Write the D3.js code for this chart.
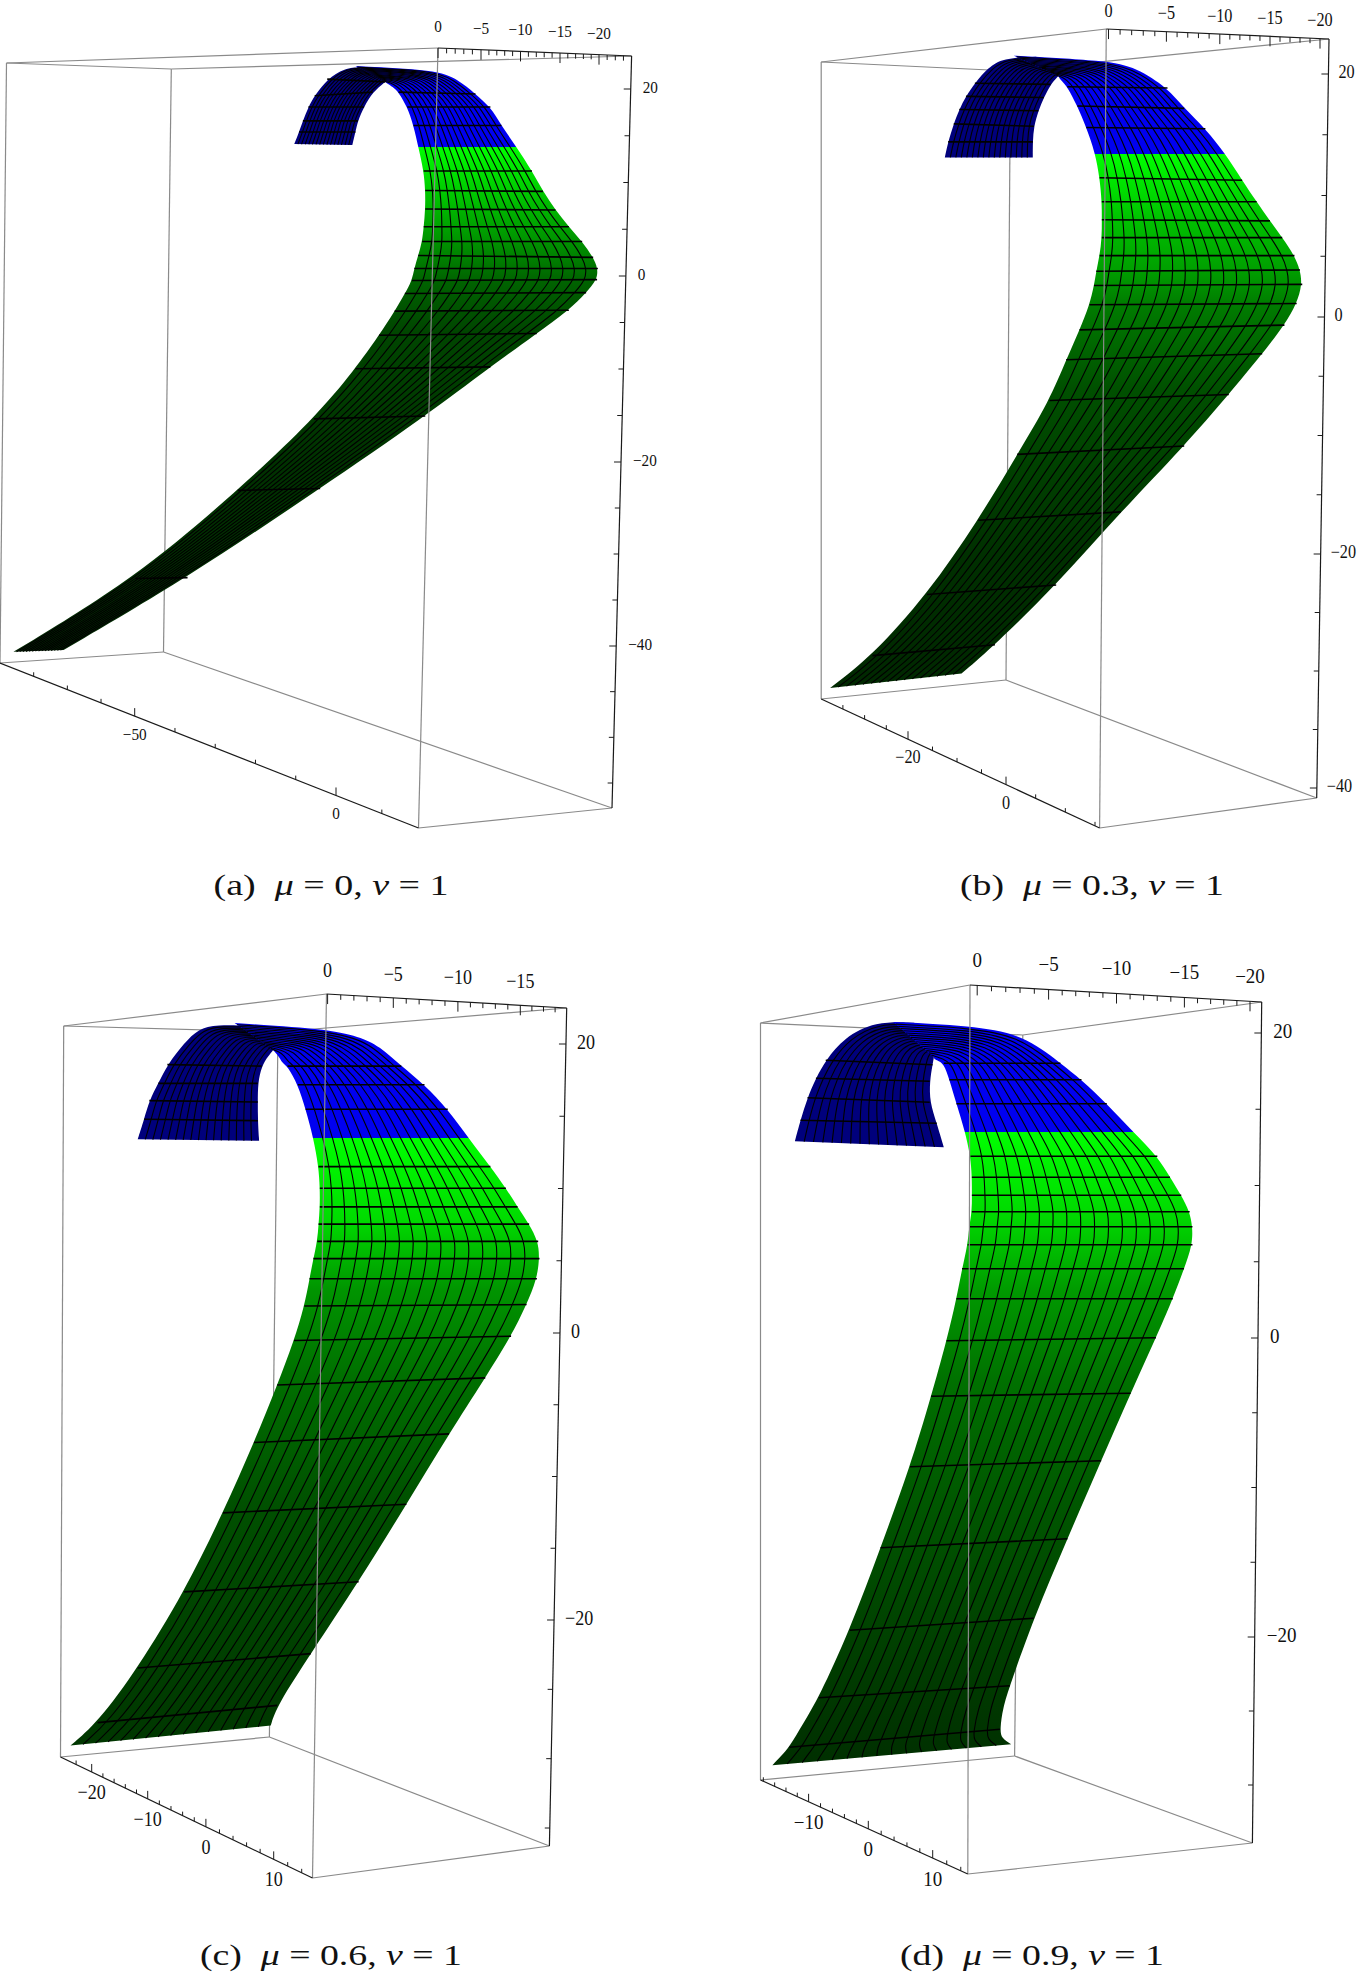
<!DOCTYPE html>
<html>
<head>
<meta charset="utf-8">
<title>Surfaces</title>
<script src="https://cdn.jsdelivr.net/npm/d3@7"></script>
<style>
html, body { margin: 0; padding: 0; background: #fff; }
svg { display: block; }
text { font-family: "Liberation Serif", serif; fill: #111; }
</style>
</head>
<body>
<div id="chart"></div>
<script>
// surface rows: [left u, left z, right u, right z]
// u is along the top axis, z along the vertical axis
const aBack = [[11.1,14.0,18.5,14.1],[10.7,15.4,17.9,15.4],[10.4,16.6,17.4,16.6],[9.6,18.1,16.7,18.1],[8.5,19.7,15.9,19.3],[6.9,20.8,14.3,21.1],[6.8,20.9,12.1,22.3],[6.7,21.0,9.9,22.4]];
const aFront = [[6.9,20.8,10.7,22.5],[6.6,20.6,0.4,22.1],[6,20.3,-2.3,21.1],[5.2,19.7,-4.6,19.5],[4.1,18.1,-6.5,18.1],[3.3,16.1,-7.9,16.1],[2.7,13.8,-9.8,13.8],[2.0,11.2,-11.8,11.2],[1.8,9.1,-13.2,9.0],[1.8,7.1,-14.8,7.0],[2.0,5.2,-16.5,5.2],[2.2,3.6,-18.2,3.6],[2.7,2.1,-19.6,1.9],[3.2,0.7,-20.2,0.7],[3.5,-0.6,-20.1,-0.5],[4.4,-2.0,-18.7,-1.9],[5.7,-3.9,-16.5,-3.8],[7.7,-6.5,-12.4,-6.3],[10.7,-10.1,-6.5,-9.9],[16,-15.5,1.8,-15.2],[25.7,-23.2,15.2,-23],[38.8,-32.7,32.1,-32.6],[54.3,-40.6,47.9,-40.4]];
const bBack = [[6.8,13.3,14.7,13.3],[6.8,14.6,14.4,14.6],[6.7,15.9,13.9,16.1],[6.3,17.2,13.4,17.3],[5.8,18.3,12.8,18.4],[5.2,19.4,12,19.5],[4.6,20.0,10.8,20.8],[4.5,20.1,9.5,21.6],[4.4,20.2,6.5,21.7]];
const bFront = [[4.5,20.1,8.5,21.8],[4.4,19.9,0.2,21.4],[4.2,19.7,-2.5,20.8],[3.7,19.2,-5.3,19.1],[2.8,17.6,-6.8,17.4],[2.0,15.8,-8.7,15.7],[1.2,13.7,-10.5,13.6],[0.8,11.6,-12,11.4],[0.6,9.6,-13.3,9.6],[0.6,8.1,-14.5,8.0],[0.6,6.6,-15.6,6.6],[0.8,5.1,-16.7,5.1],[1.1,3.8,-17.2,3.9],[1.3,2.6,-17.4,2.7],[1.7,1.0,-16.9,1.1],[2.6,-1.1,-15.8,-0.7],[3.8,-3.6,-13.8,-3.1],[5.3,-7.0,-10.8,-6.5],[8.2,-11.5,-6.8,-10.8],[11.7,-17.0,-1.1,-16.3],[16.3,-23.2,4.7,-22.4],[21.2,-28.3,10.2,-27.4],[25,-31,13.2,-29.8]];
const cBack = [[5.3,13.4,14.7,13.5],[5.4,14.8,14.2,14.9],[5.4,16.1,13.8,16.2],[5.4,17.4,13.1,17.4],[5.1,18.6,12.4,18.7],[4.6,19.3,11.1,20.2],[4.2,19.7,10,21.2],[4.2,19.8,8.6,21.5],[4.1,19.8,5.8,21.4]];
const cFront = [[4.2,19.7,7.2,21.6],[4.0,19.5,0.3,21.2],[3.8,19.3,-2.5,20.65],[3.5,18.8,-4,20],[3.1,18.6,-5.7,18.6],[2.3,17.3,-7.5,17.3],[1.7,15.6,-9.3,15.6],[1.1,13.6,-10.9,13.6],[0.7,11.6,-12.6,11.6],[0.6,10.1,-13.8,10.1],[0.6,8.8,-14.7,8.8],[0.7,7.6,-15.6,7.6],[0.8,6.4,-16.3,6.4],[1.1,5.2,-16.4,5.2],[1.4,3.8,-16.2,3.8],[1.8,1.9,-15.4,2.0],[2.6,-0.5,-14.2,-0.2],[3.9,-3.6,-12.2,-3.1],[5.7,-7.6,-9.4,-7.0],[8.1,-12.5,-6.1,-11.9],[11.1,-18.0,-2.4,-17.3],[14.7,-23.3,1.3,-22.3],[17.8,-27.1,3.9,-25.9],[19.9,-28.7,4.4,-27.3]];
const dBack = [[2.4,12.7,13,13.1],[2.9,14.3,12.6,14.5],[3.4,15.7,12.1,16],[3.4,17.1,11.5,17.3],[3.2,18.2,10.8,18.5],[3.1,18.7,9.5,20],[3.1,18.8,7.3,21.1],[3.1,18.9,4.5,21]];
const dFront = [[3.1,18.7,6,21.05],[3.1,18.6,0.5,20.8],[2.9,18.5,-3.3,20.2],[2.4,18.3,-5.9,18.3],[2.0,17.2,-7.4,17.2],[1.5,15.6,-9.2,15.6],[0.9,13.8,-11.2,13.6],[0.5,12.1,-12.8,12.1],[0.4,10.7,-13.7,10.7],[0.4,9.5,-14.5,9.5],[0.4,8.4,-15.1,8.4],[0.6,7.4,-15.3,7.4],[0.7,6.2,-15.3,6.2],[1.1,4.6,-14.7,4.6],[1.5,2.6,-13.9,2.6],[2.2,-0.2,-12.7,0],[3.3,-3.9,-10.9,-3.7],[4.8,-8.6,-8.8,-8.2],[6.9,-14,-6.4,-13.4],[9.1,-19.5,-4,-18.7],[11.3,-24,-2.3,-23.2],[12.4,-25.7,-1.8,-24.7],[13.4,-27.3,-1.6,-26.1],[14,-27.9,-1.7,-26.7],[14.6,-28.5,-2.4,-27.1]];

// rows that carry no black mesh line (fold, blue/green seam, cut ends)
const aHidden = { back: [0,6,7], front: [0,1,2,6,22] };
const bHidden = { back: [0,6,7,8], front: [0,1,2,6,22] };
const cHidden = { back: [0,5,6,7,8], front: [0,1,2,3,7,23] };
const dHidden = { back: [0,5,6,7], front: [0,1,2,6,21,23,24] };

// green shading by height, the first value is the blue/green seam
const aGreenZ = [13.8, 7, 2, -0.5, -6, -20, -41];
const aGreen = ["#00ff00", "#00b400", "#008200", "#006400", "#004600", "#003200", "#052a05"];
const bGreenZ = [13.6, 8, 4, 1, -6, -20, -31];
const bGreen = ["#00ff00", "#00c000", "#00a000", "#007c00", "#005000", "#003000", "#002800"];
const cGreenZ = [13.6, 8, 3, -3, -12, -22, -29];
const cGreen = ["#00ff00", "#00dc00", "#009400", "#007000", "#005000", "#004000", "#003600"];
const dGreenZ = [13.7, 8, 3, -3, -12, -22, -29];
const dGreen = ["#00ff00", "#00d800", "#009800", "#007000", "#005400", "#003c00", "#002e00"];

// tick values
const rightTicks = [d3.range(20, -56, -5), d3.range(20, -41, -5), d3.range(20, -36, -5), d3.range(20, -31, -5)];
const rightLabels = [[20, 0, -20, -40], [20, 0, -20, -40], [20, 0, -20], [20, 0, -20]];
const topTicks = [d3.range(0, -24, -1), d3.range(0, -21, -1), d3.range(0, -19, -1), d3.range(0, -21, -1)];
const topLabels = [[0, -5, -10, -15, -20], [0, -5, -10, -15, -20], [0, -5, -10, -15], [0, -5, -10, -15, -20]];
const bottomTicks = [d3.range(-80, 11, 10), d3.range(-35, 16, 5), d3.range(-22, 15, 2), d3.range(-18, 15, 2)];
const bottomMajor = [50, 20, 10, 10];
const bottomLabels = [[-50, 0], [-20, 0], [-20, -10, 0, 10], [-10, 0, 10]];

const captionLetter = ["(a)", "(b)", "(c)", "(d)"];
const captionMu = ["0", "0.3", "0.6", "0.9"];

// page layout of the four panels, pixels
const panels = [
    {
        back: aBack, front: aFront, hidden: aHidden, greenZ: aGreenZ, green: aGreen,
        x: [[0, -20], [439.4, 596.3]], z: [[20, -40], [89.3, 646.3]],
        tl: [6.5, 63], tb: [438, 48], tr: [631.6, 56], tf: [171.3, 69],
        bl: [0, 663], bf: [163.5, 652], bb: [418.5, 828], br: [612, 808],
        topDom: [0, -5, -10, -15, -20, -24], topPx: [438, 481, 520.5, 560, 599, 631.6],
        rightDom: [20, 0, -20, -40, -55], rightPx: [89, 276, 462, 646, 783],
        bottomDom: [-90, -50, 0, 18], bottomPx: [0, 134.7, 336, 418.5],
        fontSize: 17.5, squeeze: 0.87, topOff: 20, rightOff: 12, bottomOff: 20,
        captionX: 331, captionY: 895, captionW: 235
    },
    {
        back: bBack, front: bFront, hidden: bHidden, greenZ: bGreenZ, green: bGreen,
        x: [[0, -20], [1108.5, 1331.2]], z: [[20, 0], [77.2, 316.7]],
        tl: [821.2, 62], tb: [1106.3, 29], tr: [1329, 39], tf: [1010.5, 71],
        bl: [821.2, 699], bf: [1006, 680], bb: [1099.6, 828], br: [1316.7, 798],
        topDom: [0, -5, -10, -15, -20, -21], topPx: [1108.5, 1166.4, 1219.8, 1270, 1320, 1329],
        rightDom: [20, 0, -20, -40], rightPx: [74, 317, 554, 788],
        bottomDom: [-40, -20, 0, 15, 16], bottomPx: [821.2, 908, 1006, 1095, 1099.6],
        fontSize: 18, squeeze: 0.9, topOff: 16.5, rightOff: 10, bottomOff: 20,
        captionX: 1092, captionY: 895, captionW: 264
    },
    {
        back: cBack, front: cFront, hidden: cHidden, greenZ: cGreenZ, green: cGreen,
        x: [[0, -20], [327.6, 586]], z: [[20, 0], [1046, 1333.3]],
        tl: [63.7, 1026], tb: [326.5, 994], tr: [566.7, 1008], tf: [278, 1032],
        bl: [60.5, 1757], bf: [269.4, 1737], bb: [312.5, 1878], br: [549.4, 1846],
        topDom: [0, -5, -10, -15, -19], topPx: [327.6, 393.3, 457.9, 520.3, 566.7],
        rightDom: [20, 0, -20, -35], rightPx: [1044, 1333, 1620, 1828],
        bottomDom: [-24, -20, -10, 0, 10, 14, 15.6], bottomPx: [60.5, 91.7, 147.7, 205.9, 273.7, 301.7, 312.5],
        fontSize: 21, squeeze: 0.86, topOff: 22, rightOff: 11, bottomOff: 22,
        captionX: 331, captionY: 1965, captionW: 262
    },
    {
        back: dBack, front: dFront, hidden: dHidden, greenZ: dGreenZ, green: dGreen,
        x: [[0, -20], [977.5, 1258.5]], z: [[20, 0], [1037.7, 1337.7]],
        tl: [760.5, 1023], tb: [970, 985], tr: [1261.7, 1002], tf: [1022.8, 1035],
        bl: [760.5, 1780], bf: [1014.6, 1756], bb: [967.8, 1874], br: [1252.4, 1843],
        topDom: [0, -5, -10, -15, -20, -21], topPx: [977.2, 1048.6, 1116.5, 1184.4, 1250, 1261.7],
        rightDom: [20, 0, -20, -30], rightPx: [1033, 1338, 1637, 1785],
        bottomDom: [-18.5, -10, 0, 10, 15], bottomPx: [760.5, 808.6, 868.3, 932.7, 967.8],
        fontSize: 20, squeeze: 0.95, topOff: 23, rightOff: 12, bottomOff: 23,
        captionX: 1032, captionY: 1965, captionW: 264
    }
];

const meshCols = 16;
const boxColor = "#8a8a8a";
const axisColor = "#1a1a1a";
const frontBlue = "#0000f0";
const backBlue = "#00007c";

const svg = d3.select("#chart").append("svg")
    .attr("width", 1359)
    .attr("height", 1972);
const defs = svg.append("defs");

const smooth = d3.line().curve(d3.curveBasis);
const straight = d3.line();

function minusText(v) {
    return String(v).replace("-", "\u2212");
}

function lineThrough(a, b) {
    // y on the straight line a-b for a given x, or x for a given y
    return {
        yAt: d3.scaleLinear().domain([a[0], b[0]]).range([a[1], b[1]]),
        xAt: d3.scaleLinear().domain([a[1], b[1]]).range([a[0], b[0]])
    };
}

function ribbonPath(left, right) {
    return smooth(left) + smooth(right.slice().reverse()).replace("M", "L") + "Z";
}

function drawSurface(g, rows, fill, x, z) {
    const left = rows.map(r => [x(r[0]), z(r[1])]);
    const right = rows.map(r => [x(r[2]), z(r[3])]);
    g.append("path").attr("d", ribbonPath(left, right)).attr("fill", fill);
}

function drawMesh(g, rows, hidden, x, z) {
    const cols = d3.range(1, meshCols);
    g.selectAll(null)
        .data(cols)
        .enter()
        .append("path")
        .attr("d", function (c) {
            const t = c / meshCols;
            return smooth(rows.map(r => [x(r[0] + (r[2] - r[0]) * t), z(r[1] + (r[3] - r[1]) * t)]));
        })
        .attr("fill", "none")
        .attr("stroke", "#000")
        .attr("stroke-width", 1.1);
    g.selectAll(null)
        .data(rows.filter((r, i) => hidden.indexOf(i) < 0))
        .enter()
        .append("line")
        .attr("x1", r => x(r[0]))
        .attr("y1", r => z(r[1]))
        .attr("x2", r => x(r[2]))
        .attr("y2", r => z(r[3]))
        .attr("stroke", "#000")
        .attr("stroke-width", 1.6);
}

function tickLabel(g, text, px, py, p, anchor) {
    g.append("text")
        .attr("transform", "translate(" + px + "," + py + ") scale(" + p.squeeze + ",1)")
        .attr("text-anchor", anchor)
        .attr("dominant-baseline", "middle")
        .style("font-size", p.fontSize + "px")
        .text(minusText(text));
}

function drawPanel(p, i) {
    const g = svg.append("g");
    const x = d3.scaleLinear().domain(p.x[0]).range(p.x[1]);
    const z = d3.scaleLinear().domain(p.z[0]).range(p.z[1]);
    const topX = d3.scaleLinear().domain(p.topDom).range(p.topPx);
    const rightY = d3.scaleLinear().domain(p.rightDom).range(p.rightPx);
    const bottomX = d3.scaleLinear().domain(p.bottomDom).range(p.bottomPx);
    const topLine = lineThrough(p.tb, p.tr);
    const rightLine = lineThrough(p.tr, p.br);
    const bottomLine = lineThrough(p.bl, p.bb);

    // box edges behind the surface
    [[p.tl, p.tb], [p.tl, p.tf], [p.tf, p.tr], [p.tf, p.bf], [p.tl, p.bl], [p.bl, p.bf], [p.bf, p.br]].forEach(e => {
        g.append("path").attr("d", straight(e)).attr("stroke", boxColor).attr("stroke-width", 1.2).attr("fill", "none");
    });

    // front fill runs down the z axis: blue to the seam, then the greens
    const color = d3.scaleLinear().domain(p.greenZ).range(p.green);
    const zTop = 25, zEnd = p.greenZ[p.greenZ.length - 1];
    const stops = [{v: zTop, c: frontBlue}, {v: p.greenZ[0], c: frontBlue}]
        .concat(p.greenZ.map(v => ({v: v, c: color(v)})));
    const grad = defs.append("linearGradient")
        .attr("id", "front" + i)
        .attr("gradientUnits", "userSpaceOnUse")
        .attr("x1", 0).attr("x2", 0)
        .attr("y1", z(zTop)).attr("y2", z(zEnd));
    grad.selectAll("stop")
        .data(stops)
        .enter()
        .append("stop")
        .attr("offset", d => (z(d.v) - z(zTop)) / (z(zEnd) - z(zTop)))
        .attr("stop-color", d => d.c);

    drawSurface(g, p.back, backBlue, x, z);
    drawMesh(g, p.back, p.hidden.back, x, z);
    drawSurface(g, p.front, "url(#front" + i + ")", x, z);
    drawMesh(g, p.front, p.hidden.front, x, z);

    // box edges in front of the surface
    [[p.tb, p.bb], [p.bb, p.br]].forEach(e => {
        g.append("path").attr("d", straight(e)).attr("stroke", boxColor).attr("stroke-width", 1.2).attr("fill", "none");
    });

    // the three black axes
    [[p.tb, p.tr], [p.tr, p.br], [p.bl, p.bb]].forEach(e => {
        g.append("path").attr("d", straight(e)).attr("stroke", axisColor).attr("stroke-width", 1.2).attr("fill", "none");
    });

    g.selectAll(null)
        .data(topTicks[i])
        .enter()
        .append("line")
        .attr("x1", v => topX(v))
        .attr("x2", v => topX(v))
        .attr("y1", v => topLine.yAt(topX(v)))
        .attr("y2", v => topLine.yAt(topX(v)) + (v % 5 === 0 ? 10 : 5))
        .attr("stroke", axisColor);
    topLabels[i].forEach(v => {
        const px = topX(v);
        tickLabel(g, v, px, topLine.yAt(px) - p.topOff, p, "middle");
    });

    g.selectAll(null)
        .data(rightTicks[i])
        .enter()
        .append("line")
        .attr("y1", v => rightY(v))
        .attr("y2", v => rightY(v))
        .attr("x1", v => rightLine.xAt(rightY(v)))
        .attr("x2", v => rightLine.xAt(rightY(v)) - (v % 20 === 0 ? 7 : 5))
        .attr("stroke", axisColor);
    rightLabels[i].forEach(v => {
        const py = rightY(v);
        tickLabel(g, v, rightLine.xAt(py) + p.rightOff, py, p, "start");
    });

    g.selectAll(null)
        .data(bottomTicks[i])
        .enter()
        .append("line")
        .attr("x1", v => bottomX(v))
        .attr("x2", v => bottomX(v))
        .attr("y1", v => bottomLine.yAt(bottomX(v)))
        .attr("y2", v => bottomLine.yAt(bottomX(v)) - (v % bottomMajor[i] === 0 ? 8 : 4))
        .attr("stroke", axisColor);
    bottomLabels[i].forEach(v => {
        const px = bottomX(v);
        tickLabel(g, v, px, bottomLine.yAt(px) + p.bottomOff, p, "middle");
    });

    // sub caption
    const cap = g.append("text")
        .attr("x", p.captionX)
        .attr("y", p.captionY)
        .attr("text-anchor", "middle")
        .attr("textLength", p.captionW)
        .attr("lengthAdjust", "spacingAndGlyphs")
        .style("font-size", "30px");
    cap.append("tspan").text(captionLetter[i] + "\u00a0\u00a0");
    cap.append("tspan").style("font-style", "italic").text("\u03bc");
    cap.append("tspan").text(" = " + captionMu[i] + ", ");
    cap.append("tspan").style("font-style", "italic").text("\u03bd");
    cap.append("tspan").text(" = 1");
}

panels.forEach(drawPanel);
</script>
</body>
</html>
